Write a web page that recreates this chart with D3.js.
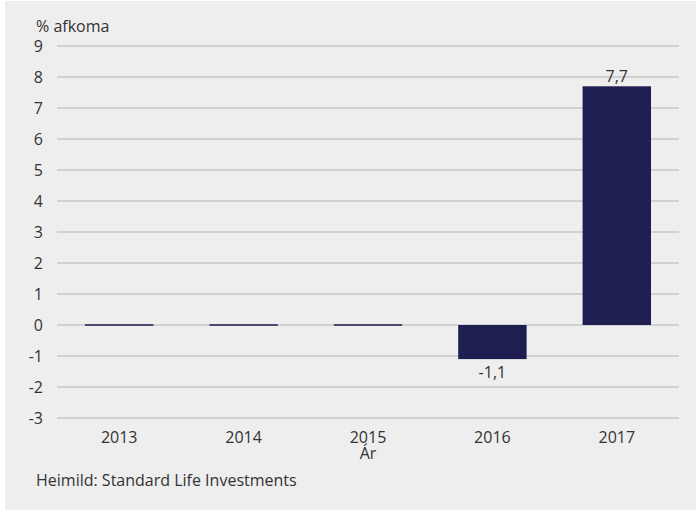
<!DOCTYPE html>
<html lang="is">
<head>
    <meta charset="UTF-8">
    <title>Afkoma</title>
    <script src="https://d3js.org/d3.v7.min.js"></script>
    <style>
        body { margin: 0; background: #ffffff; }
        svg { display: block; font-family: "Open Sans", sans-serif; }
        .grid line { stroke: #b3b3b3; stroke-width: 1.2; }
        .lbl { fill: #333333; font-size: 16px; }
    </style>
</head>
<body>
    <svg width="697" height="510"></svg>
    <script>
        // Gögn
        const years = ["2013", "2014", "2015", "2016", "2017"];
        const values = [0, 0, 0, -1.1, 7.7];
        const yTicks = [-3, -2, -1, 0, 1, 2, 3, 4, 5, 6, 7, 8, 9];

        const margin = { top: 46, right: 18, bottom: 92, left: 57 };
        const width = 697 - margin.left - margin.right;
        const height = 510 - margin.top - margin.bottom;

        const root = d3.select("svg");
        root.append("rect")
            .attr("x", 5).attr("y", 1)
            .attr("width", 691).attr("height", 509)
            .attr("fill", "#eeeeee");

        const svg = root.append("g")
            .attr("transform", "translate(" + margin.left + "," + margin.top + ")");

        const x = d3.scaleBand()
            .domain(years)
            .range([0, width])
            .paddingInner(0.45)
            .paddingOuter(0.225);

        const y = d3.scaleLinear()
            .domain([-3, 9])
            .range([height, 0]);

        const data = years.map((g, i) => ({ godina: g, v: values[i] }));
        const fmt = v => d3.format(".1f")(v).replace(".", ",").replace("\u2212", "-");

        // Gridlínur
        svg.append("g")
            .attr("class", "grid")
            .selectAll("line")
            .data(yTicks)
            .enter().append("line")
            .attr("x1", 0)
            .attr("x2", width)
            .attr("y1", d => y(d))
            .attr("y2", d => y(d));

        // Y ás merki
        svg.append("g")
            .selectAll("text")
            .data(yTicks)
            .enter().append("text")
            .attr("class", "lbl")
            .attr("x", -14)
            .attr("y", d => y(d))
            .attr("dy", "0.35em")
            .style("text-anchor", "end")
            .text(d => String(d));

        // Súlur
        svg.selectAll(".bar")
            .data(data)
            .enter().append("rect")
            .attr("class", "bar")
            .attr("fill", "#1e1f50")
            .attr("x", d => x(d.godina))
            .attr("width", x.bandwidth())
            .attr("y", d => d.v === 0 ? y(0) - 0.75 : y(Math.max(0, d.v)))
            .attr("height", d => d.v === 0 ? 1.5 : Math.abs(y(d.v) - y(0)));

        // Gildi á súlum
        svg.selectAll(".val")
            .data(data.filter(d => d.v !== 0))
            .enter().append("text")
            .attr("class", "lbl")
            .attr("x", d => x(d.godina) + x.bandwidth() / 2)
            .attr("y", d => d.v > 0 ? y(d.v) - 4 : y(d.v) + 19)
            .style("text-anchor", "middle")
            .text(d => fmt(d.v));

        // X ás merki
        svg.append("g")
            .selectAll("text")
            .data(years)
            .enter().append("text")
            .attr("class", "lbl")
            .attr("x", d => x(d) + x.bandwidth() / 2)
            .attr("y", height + 25)
            .style("text-anchor", "middle")
            .text(d => d);

        svg.append("text")
            .attr("class", "lbl")
            .attr("x", width / 2)
            .attr("y", height + 41)
            .style("text-anchor", "middle")
            .text("Ár");

        svg.append("text")
            .attr("class", "lbl")
            .attr("x", -21)
            .attr("y", -14)
            .text("% afkoma");

        svg.append("text")
            .attr("class", "lbl")
            .attr("x", -21)
            .attr("y", height + 68)
            .text("Heimild: Standard Life Investments");
    </script>
</body>
</html>
